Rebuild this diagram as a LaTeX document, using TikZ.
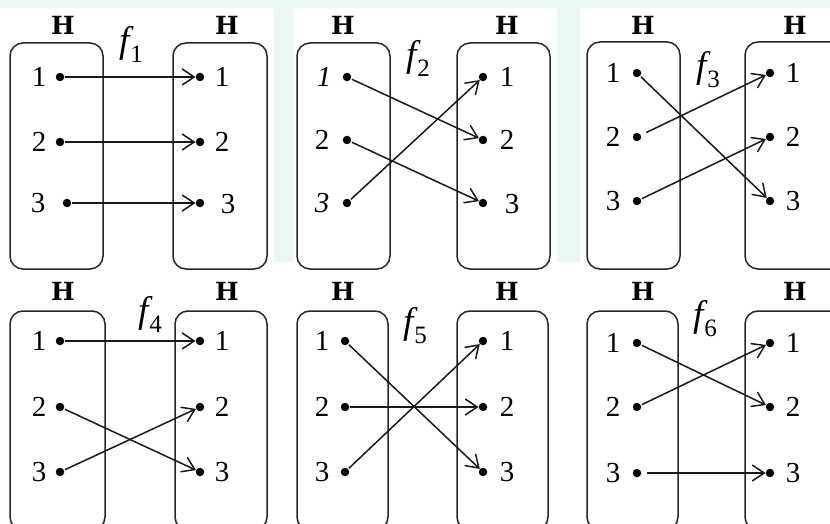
\documentclass[tikz,border=0pt]{standalone}
\usepackage{fontspec}
\setmainfont{Liberation Serif}
\newfontfamily\hfont{DejaVu Serif}
\usetikzlibrary{arrows.meta}
\begin{document}
\begin{tikzpicture}[x=1pt,y=-1pt,
 setbox/.style={draw=black!85, line width=1.5pt, rounded corners=13pt},
 pt/.style={circle, fill=black, inner sep=0pt, minimum size=8.5pt},
 num/.style={font=\fontsize{29}{29}\selectfont, inner sep=0pt},
 inum/.style={font=\fontsize{29}{29}\selectfont\itshape, inner sep=0pt},
 hlab/.style={font=\hfont\bfseries\fontsize{25}{25}\selectfont, inner sep=0pt},
 flab/.style={inner sep=0pt},
 map/.style={draw=black!90, line width=1.5pt, -{Straight Barb[length=12pt,width=16pt,line width=1.5pt]}, shorten <=1pt}
]
\useasboundingbox (0,0) rectangle (830,524);
\clip (0,0) rectangle (830,524);
\fill[white] (0,0) rectangle (830,524);
\fill[green!30!teal!8] (0,0) rectangle (830,8);
\fill[green!30!teal!8] (274,0) rectangle (293,262);
\fill[green!30!teal!8] (557,0) rectangle (580,262);
\newcommand{\fl}[1]{\fontsize{37}{37}\selectfont\itshape f\kern1pt\raisebox{-10pt}{\fontsize{25}{25}\selectfont\upshape #1}}

% ---------- panel 1 ----------
\draw[setbox] (10,43) rectangle (103,269);
\draw[setbox] (173,43) rectangle (267,269);
\node[hlab] (a-hl) at (63,25) {H};
\node[hlab] (a-hr) at (227,25) {H};
\node[flab] (a-f) at (131,44) {\fl{1}};
\node[pt] (a-l1) at (60,77) {};
\node[pt] (a-l2) at (60,142) {};
\node[pt] (a-l3) at (67,203) {};
\node[pt] (a-r1) at (200,77) {};
\node[pt] (a-r2) at (200,142) {};
\node[pt] (a-r3) at (200,203) {};
\node[num] (a-ln1) at (39,77) {1};
\node[num] (a-ln2) at (39,142) {2};
\node[num] (a-ln3) at (38,203) {3};
\node[num] (a-rn1) at (222,77) {1};
\node[num] (a-rn2) at (222,142) {2};
\node[num] (a-rn3) at (228,204) {3};
\draw[map] (a-l1) -- (a-r1);
\draw[map] (a-l2) -- (a-r2);
\draw[map] (a-l3) -- (a-r3);

% ---------- panel 2 ----------
\draw[setbox] (297,43) rectangle (390,269);
\draw[setbox] (457,43) rectangle (550,269);
\node[hlab] (b-hl) at (343,25) {H};
\node[hlab] (b-hr) at (507,25) {H};
\node[flab] (b-f) at (418,58) {\fl{2}};
\node[pt] (b-l1) at (347,77) {};
\node[pt] (b-l2) at (347,140) {};
\node[pt] (b-l3) at (347,203) {};
\node[pt] (b-r1) at (483,77) {};
\node[pt] (b-r2) at (483,140) {};
\node[pt] (b-r3) at (483,203) {};
\node[inum] (b-ln1) at (324,77) {1};
\node[num] (b-ln2) at (322,140) {2};
\node[inum] (b-ln3) at (322,203) {3};
\node[num] (b-rn1) at (507,77) {1};
\node[num] (b-rn2) at (507,140) {2};
\node[num] (b-rn3) at (512,204) {3};
\draw[map] (b-l1) -- (b-r2);
\draw[map] (b-l2) -- (b-r3);
\draw[map] (b-l3) -- (b-r1);

% ---------- panel 3 ----------
\draw[setbox] (587,42) rectangle (680,269);
\draw[setbox] (745,42) rectangle (880,269);
\node[hlab] (c-hl) at (643,25) {H};
\node[hlab] (c-hr) at (795,25) {H};
\node[flab] (c-f) at (708,70) {\fl{3}};
\node[pt] (c-l1) at (637,73) {};
\node[pt] (c-l2) at (637,137) {};
\node[pt] (c-l3) at (637,201) {};
\node[pt] (c-r1) at (770,73) {};
\node[pt] (c-r2) at (770,137) {};
\node[pt] (c-r3) at (770,201) {};
\node[num] (c-ln1) at (613,73) {1};
\node[num] (c-ln2) at (613,137) {2};
\node[num] (c-ln3) at (613,201) {3};
\node[num] (c-rn1) at (793,73) {1};
\node[num] (c-rn2) at (793,137) {2};
\node[num] (c-rn3) at (793,201) {3};
\draw[map] (c-l1) -- (c-r3);
\draw[map, shorten <=6pt] (c-l2) -- (c-r1);
\draw[map] (c-l3) -- (c-r2);

% ---------- panel 4 ----------
\draw[setbox] (10,311) rectangle (105,530);
\draw[setbox] (175,311) rectangle (267,530);
\node[hlab] (d-hl) at (63,291) {H};
\node[hlab] (d-hr) at (227,291) {H};
\node[flab] (d-f) at (150,314) {\fl{4}};
\node[pt] (d-l1) at (60,341) {};
\node[pt] (d-l2) at (60,407) {};
\node[pt] (d-l3) at (60,472) {};
\node[pt] (d-r1) at (200,341) {};
\node[pt] (d-r2) at (200,407) {};
\node[pt] (d-r3) at (200,472) {};
\node[num] (d-ln1) at (39,341) {1};
\node[num] (d-ln2) at (39,407) {2};
\node[num] (d-ln3) at (39,472) {3};
\node[num] (d-rn1) at (222,341) {1};
\node[num] (d-rn2) at (222,407) {2};
\node[num] (d-rn3) at (222,472) {3};
\draw[map] (d-l1) -- (d-r1);
\draw[map] (d-l2) -- (d-r3);
\draw[map] (d-l3) -- (d-r2);

% ---------- panel 5 ----------
\draw[setbox] (297,311) rectangle (388,530);
\draw[setbox] (457,311) rectangle (548,530);
\node[hlab] (e-hl) at (343,291) {H};
\node[hlab] (e-hr) at (507,291) {H};
\node[flab] (e-f) at (415,326) {\fl{5}};
\node[pt] (e-l1) at (345,341) {};
\node[pt] (e-l2) at (345,407) {};
\node[pt] (e-l3) at (345,472) {};
\node[pt] (e-r1) at (483,341) {};
\node[pt] (e-r2) at (483,407) {};
\node[pt] (e-r3) at (483,472) {};
\node[num] (e-ln1) at (322,341) {1};
\node[num] (e-ln2) at (322,407) {2};
\node[num] (e-ln3) at (322,472) {3};
\node[num] (e-rn1) at (507,341) {1};
\node[num] (e-rn2) at (507,407) {2};
\node[num] (e-rn3) at (507,472) {3};
\draw[map] (e-l1) -- (e-r3);
\draw[map] (e-l2) -- (e-r2);
\draw[map] (e-l3) -- (e-r1);

% ---------- panel 6 ----------
\draw[setbox] (587,311) rectangle (678,530);
\draw[setbox] (745,311) rectangle (880,530);
\node[hlab] (g-hl) at (643,291) {H};
\node[hlab] (g-hr) at (795,291) {H};
\node[flab] (g-f) at (705,319) {\fl{6}};
\node[pt] (g-l1) at (637,343) {};
\node[pt] (g-l2) at (637,407) {};
\node[pt] (g-l3) at (637,473) {};
\node[pt] (g-r1) at (770,343) {};
\node[pt] (g-r2) at (770,407) {};
\node[pt] (g-r3) at (770,473) {};
\node[num] (g-ln1) at (613,343) {1};
\node[num] (g-ln2) at (613,407) {2};
\node[num] (g-ln3) at (613,473) {3};
\node[num] (g-rn1) at (793,343) {1};
\node[num] (g-rn2) at (793,407) {2};
\node[num] (g-rn3) at (793,473) {3};
\draw[map] (g-l1) -- (g-r2);
\draw[map] (g-l2) -- (g-r1);
\draw[map, shorten <=6pt] (g-l3) -- (g-r3);
\end{tikzpicture}
\end{document}
